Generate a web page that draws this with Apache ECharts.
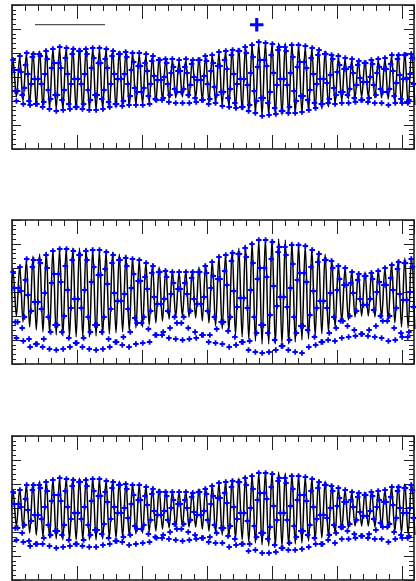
<!DOCTYPE html>
<html>
<head>
<meta charset="utf-8">
<script src="https://cdn.jsdelivr.net/npm/echarts@6/dist/echarts.min.js"></script>
<style>
  html, body { margin: 0; padding: 0; background: #fff; }
  #chart { width: 416px; height: 581px; }
</style>
</head>
<body>
<div id="chart"></div>
<script>
// ---- data (time axis in plot units, values in plot units) ----
// model curve: successive extrema (trough, peak, trough, ...) at a regular step
const fitStart = -2.26;
const fitStep = 3.32;
const fit1 = [-18,
  16,-20, 20,-24, 23,-27, 25,-29, 26,-30, 27,-31, 28,-32, 29,-33, 29,-33, 29,-33,
  29,-33, 29,-33, 29,-33, 28,-32, 28,-32, 27,-31, 26,-30, 26,-30, 24,-28, 23,-27,
  22,-26, 21,-25, 19,-23, 18,-22, 17,-21, 16,-20, 17,-21, 17,-21, 19,-23, 21,-25,
  22,-26, 24,-28, 26,-30, 28,-32, 29,-33, 31,-35, 32,-36, 34,-38, 34,-38, 34,-38,
  34,-38, 34,-38, 33,-37, 32,-36, 30,-34, 29,-33, 28,-32, 26,-30, 23,-27, 20,-24,
  18,-22, 17,-21, 16,-20, 16,-20, 17,-21, 17,-21, 18,-22, 21,-25, 23,-27, 24,-28,
  24,-28];
const fit2 = [-22,
  20,-24, 26,-30, 32,-35, 36,-38, 38,-40, 40,-41, 42,-43, 43,-44, 44,-45, 44,-45,
  44,-45, 44,-45, 43,-44, 42,-43, 41,-42, 40,-41, 38,-40, 37,-39, 34,-36, 32,-35,
  30,-33, 28,-31, 25,-29, 23,-27, 21,-25, 20,-24, 21,-25, 22,-26, 25,-29, 28,-31,
  31,-34, 35,-37, 38,-40, 42,-43, 44,-45, 47,-47, 49,-49, 52,-52, 53,-52, 53,-52,
  53,-52, 52,-52, 50,-50, 48,-48, 46,-47, 43,-44, 41,-42, 38,-40, 33,-35, 27,-30,
  24,-28, 21,-25, 20,-24, 20,-24, 21,-25, 22,-26, 24,-28, 28,-31, 32,-35, 34,-36,
  35,-37];
const fit3 = [-16,
  16,-18, 19,-21, 23,-25, 25,-27, 27,-29, 28,-30, 29,-31, 30,-32, 30,-32, 30,-32,
  30,-32, 30,-32, 30,-32, 29,-31, 28,-30, 28,-30, 27,-29, 26,-28, 24,-26, 23,-25,
  22,-24, 21,-23, 19,-21, 18,-20, 17,-19, 16,-18, 17,-19, 17,-19, 19,-21, 21,-23,
  23,-25, 25,-27, 27,-29, 29,-31, 30,-32, 32,-34, 33,-35, 35,-37, 36,-38, 36,-38,
  36,-38, 35,-37, 34,-36, 33,-35, 31,-33, 30,-32, 28,-30, 27,-29, 24,-26, 20,-22,
  18,-20, 16,-18, 16,-18, 16,-18, 17,-19, 17,-19, 18,-20, 21,-23, 23,-25, 24,-26,
  25,-27];

// observations: regular sampling
const obsStart = 1.06;
const obsStep = 1.1375;
const obs1 = [
  17,7,-14,-24,-14,7, 21,5,-18,-27,-11,12, 24,3,-24,-28,-7,20, 23,-2,-27,-27,-2,23,
  21,-7,-30,-25,3,26, 18,-13,-32,-22,9,28, 14,-18,-34,-18,14,30, 9,-23,-33,-13,19,29,
  3,-27,-32,-7,23,28, -2,-30,-30,-2,26,26, -7,-32,-27,3,28,23, -13,-33,-23,9,29,19,
  -18,-33,-18,14,29,14, -22,-32,-13,18,28,9, -25,-30,-7,21,26,3, -27,-27,-2,23,23,-2,
  -29,-24,3,25,20,-7, -28,-19,7,24,15,-11, -28,-15,11,24,11,-15, -28,-11,14,23,6,-19,
  -27,-7,16,21,1,-22, -23,-3,17,17,-3,-23, -21,0,18,14,-7,-25, -18,4,18,10,-12,-26,
  -15,6,17,6,-15,-26, -12,10,18,4,-18,-26, -8,13,17,0,-21,-25, -3,17,17,-3,-23,-23,
  1,21,16,-7,-27,-22, 6,22,14,-10,-26,-18, 11,25,11,-15,-29,-15, 17,26,8,-21,-30,-12,
  22,27,3,-26,-31,-7, 26,26,-2,-30,-30,-2, 30,24,-8,-34,-28,4, 32,20,-14,-36,-24,10,
  35,17,-21,-39,-21,17, 34,11,-26,-38,-15,22, 33,4,-31,-37,-8,27, 30,-2,-34,-34,-2,30,
  26,-8,-36,-30,4,32, 20,-14,-36,-24,10,32, 15,-19,-35,-19,15,31, 9,-23,-33,-13,19,29,
  3,-26,-31,-7,22,27, -2,-27,-27,-2,23,23, -6,-26,-22,2,22,18, -11,-27,-18,5,21,12,
  -15,-26,-15,8,19,8, -18,-26,-12,10,18,4, -21,-25,-8,12,16,-1, -23,-23,-5,14,14,-5,
  -25,-21,0,17,13,-8, -26,-18,4,18,10,-12, -26,-15,8,19,8,-15, -28,-12,13,22,6,-19,
  -26,-6,18,22,2,-22, -26,-2,22,22,-2,-26, -23,3,23,19,-7];
const obs2 = [
  20,4,-30,-46,-30,4, 25,1,-36,-49,-25,12, 33,-3,-47,-55,-19,25, 32,-10,-52,-52,-10,32,
  29,-17,-55,-47,-1,37, 24,-25,-57,-40,9,41, 18,-33,-58,-33,18,43, 10,-40,-57,-24,26,43,
  2,-46,-55,-16,32,41, -7,-51,-51,-7,37,37, -16,-55,-46,2,41,32, -25,-57,-40,10,42,25,
  -33,-58,-33,17,42,17, -40,-57,-25,23,40,8, -47,-55,-17,29,37,-1, -50,-50,-9,32,32,-9,
  -53,-45,-2,34,26,-17, -55,-40,4,33,18,-26, -52,-31,11,32,11,-31, -51,-25,15,29,3,-37,
  -50,-19,19,26,-5,-43, -43,-12,20,20,-12,-43, -40,-7,21,15,-19,-46, -36,-2,20,9,-25,-47,
  -31,3,20,3,-31,-48, -25,9,20,-2,-36,-47, -19,14,20,-7,-40,-46, -12,20,20,-12,-43,-43,
  -5,26,19,-19,-50,-43, 4,30,16,-25,-51,-37, 13,35,13,-30,-52,-30, 21,37,7,-39,-55,-25,
  31,39,1,-45,-53,-15, 38,38,-6,-50,-50,-6, 44,35,-16,-58,-49,2, 48,29,-25,-60,-41,13,
  52,24,-33,-61,-33,24, 52,15,-41,-60,-23,33, 50,6,-48,-58,-14,40, 45,-5,-54,-54,-5,45,
  37,-15,-58,-48,4,47, 28,-25,-60,-41,12,47, 19,-34,-61,-34,19,46, 10,-38,-55,-23,25,42,
  1,-45,-53,-16,30,38, -9,-50,-50,-9,32,32, -16,-48,-41,-1,31,24, -25,-49,-36,2,26,13,
  -29,-46,-29,7,24,7, -34,-45,-24,9,20,-1, -38,-44,-19,12,18,-7, -42,-42,-13,16,16,-13,
  -44,-38,-7,19,13,-18, -45,-34,0,21,10,-24, -46,-29,7,24,7,-29, -49,-24,14,27,2,-36,
  -48,-16,23,30,-2,-41, -45,-8,29,29,-8,-45, -40,0,33,25,-15];
const obs3 = [
  16,4,-20,-32,-20,4, 18,1,-25,-34,-17,9, 23,-2,-33,-38,-13,18, 23,-7,-36,-36,-7,23,
  20,-11,-36,-30,1,26, 17,-17,-38,-27,7,28, 13,-23,-40,-23,13,30, 7,-27,-39,-17,17,29,
  1,-32,-38,-11,22,28, -5,-36,-36,-5,26,26, -11,-38,-32,1,28,22, -17,-39,-27,7,29,17,
  -22,-39,-22,12,29,12, -26,-37,-16,16,27,6, -30,-36,-11,20,26,1, -33,-33,-5,23,23,-5,
  -34,-29,0,24,19,-10, -37,-27,4,23,13,-18, -36,-21,8,23,8,-21, -35,-17,12,21,3,-26,
  -34,-12,14,19,-3,-29, -30,-7,16,16,-7,-30, -27,-3,16,12,-12,-31, -24,0,16,8,-16,-32,
  -21,4,16,4,-21,-33, -16,8,16,0,-24,-32, -12,11,15,-4,-27,-31, -7,16,16,-7,-30,-30,
  -3,19,14,-12,-34,-29, 4,22,12,-17,-35,-25, 10,25,10,-20,-35,-20, 15,26,5,-28,-39,-18,
  21,27,1,-31,-37,-11, 26,26,-5,-36,-36,-5, 30,23,-13,-43,-36,0, 32,19,-18,-42,-29,8,
  35,15,-25,-45,-25,15, 35,9,-31,-45,-19,21, 34,2,-37,-44,-12,27, 30,-5,-40,-40,-5,30,
  25,-12,-42,-35,2,32, 19,-18,-42,-29,8,32, 13,-23,-41,-23,13,31, 7,-27,-39,-17,17,29,
  1,-30,-36,-11,20,26, -7,-36,-36,-7,23,23, -10,-32,-27,0,22,17, -17,-35,-25,2,20,10,
  -19,-31,-19,6,18,6, -23,-31,-16,8,16,1, -26,-30,-12,11,15,-4, -28,-28,-8,13,13,-8,
  -30,-26,-3,16,12,-11, -31,-22,1,17,8,-15, -31,-19,6,18,6,-19, -34,-16,11,21,3,-24,
  -31,-10,17,21,0,-27, -30,-5,20,20,-5,-30, -28,0,23,18,-10];

const fits = [fit1, fit2, fit3];
const obss = [obs1, obs2, obs3];

// ---- layout / style ----
const gridTops = [5, 220, 436];
const plusPath = 'path://M2,0H4V2H6V4H4V6H2V4H0V2H2Z';
const plusLegend = 'path://M5,0H8V5H13V8H8V13H5V8H0V5H5Z';
const frame = { color: '#111', width: 1.5 };
const tickStyle = { color: '#222', width: 1 };

const grids = gridTops.map(t => ({ left: 12, width: 402, top: t, height: 144 }));

const xAxes = [];
const yAxes = [];
gridTops.forEach((t, gi) => {
  [['bottom', 65, 14, true], ['bottom', 13, 6, false], ['top', 65, 14, true], ['top', 13, 6, false]]
    .forEach(([pos, iv, len, line]) => {
      xAxes.push({
        gridIndex: gi, type: 'value', min: 0, max: 402, interval: iv, position: pos,
        axisLine: { show: line, onZero: false, lineStyle: frame },
        axisTick: { show: true, inside: true, length: len, lineStyle: tickStyle },
        axisLabel: { show: false }, splitLine: { show: false }
      });
    });
  [['left', 9, 4], ['right', 10, 5]].forEach(([pos, len, mlen]) => {
    yAxes.push({
      gridIndex: gi, type: 'value', min: -72, max: 72, interval: 24, position: pos,
      axisLine: { show: true, onZero: false, lineStyle: frame },
      axisTick: { show: true, inside: true, length: len, lineStyle: tickStyle },
      minorTick: { show: true, splitNumber: 5, length: mlen, lineStyle: tickStyle },
      axisLabel: { show: false }, splitLine: { show: false }
    });
  });
});

const series = [];
fits.forEach((f, i) => {
  series.push({
    name: 'fit', type: 'line', xAxisIndex: 4 * i, yAxisIndex: 2 * i,
    data: f.map((v, j) => [fitStart + j * fitStep, v]),
    smooth: 0.36, symbol: 'none', showSymbol: false,
    lineStyle: { color: '#000', width: 1.5 }, itemStyle: { color: '#000' },
    z: 2, silent: true
  });
});
obss.forEach((o, i) => {
  series.push({
    name: 'obs', type: 'scatter', xAxisIndex: 4 * i, yAxisIndex: 2 * i,
    data: o.map((v, j) => [obsStart + j * obsStep, v]),
    symbol: plusPath, symbolSize: 5.5,
    itemStyle: { color: '#0000ff', opacity: 1 },
    z: 3, silent: true
  });
});

const chart = echarts.init(document.getElementById('chart'), null, { renderer: 'canvas' });
chart.setOption({
  animation: false,
  backgroundColor: '#fff',
  grid: grids,
  xAxis: xAxes,
  yAxis: yAxes,
  legend: [
    { data: [{ name: 'fit', icon: 'rect', itemStyle: { color: '#555' } }],
      left: 35, top: 24, itemWidth: 70, itemHeight: 1.2,
      formatter: () => '', selectedMode: false, padding: 0 },
    { data: [{ name: 'obs', icon: plusLegend }], left: 250, top: 18, itemWidth: 13.5, itemHeight: 13.5,
      formatter: () => '', selectedMode: false, padding: 0 }
  ],
  series: series
});
</script>
</body>
</html>
